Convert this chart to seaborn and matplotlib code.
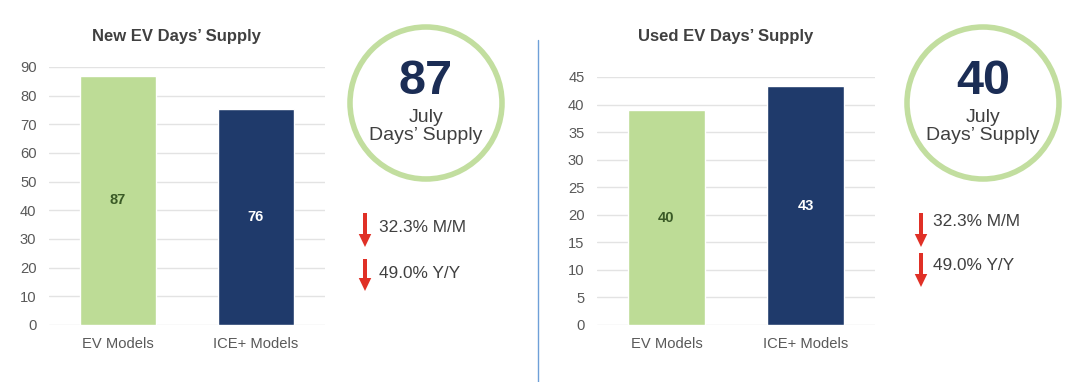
import matplotlib
matplotlib.use("Agg")
import matplotlib.pyplot as plt
import seaborn as sns
import pandas as pd
from matplotlib.patches import Circle, FancyArrow

# ---------------- data ----------------
categories = ["EV Models", "ICE+ Models"]
new_values = [87, 75.5]
new_labels = ["87", "76"]
used_values = [39, 43.3]
used_labels = ["40", "43"]
new_title = "New EV Days\u2019 Supply"
used_title = "Used EV Days\u2019 Supply"
new_headline = "87"
used_headline = "40"
circle_sub = ["July", "Days\u2019 Supply"]
change_texts = ["32.3% M/M", "49.0% Y/Y"]
new_yticks = list(range(0, 91, 10))
used_yticks = list(range(0, 46, 5))

# ---------------- style ----------------
sns.set_theme(style="white")
plt.rcParams["font.family"] = ["Liberation Sans", "DejaVu Sans"]

GREEN = "#bddc96"
NAVY = "#1f3a6b"
RING = "#c2de9f"
TXT = "#404040"
TICK = "#595959"
GRID = "#e3e3e3"
RED = "#e03026"

W, H = 1080, 382
fig = plt.figure(figsize=(W / 100, H / 100), dpi=100)
fig.patch.set_facecolor("white")


def px_rect(x0, x1, ytop, ybot):
    return [x0 / W, (H - ybot) / H, (x1 - x0) / W, (ybot - ytop) / H]


def bar_panel(rect, values, labels, yticks, ymax, title, title_x):
    ax = fig.add_axes(rect)
    df = pd.DataFrame({"cat": categories, "val": values})
    sns.barplot(data=df, x="cat", y="val", hue="cat", palette=[GREEN, NAVY],
                width=0.55, legend=False, ax=ax, saturation=1)
    ax.set_xlim(-0.5, 1.5)
    ax.set_ylim(0, ymax)
    ax.set_yticks(yticks)
    ax.yaxis.grid(True, color=GRID, linewidth=1)
    ax.set_axisbelow(True)
    for s in ax.spines.values():
        s.set_visible(False)
    ax.set_xlabel("")
    ax.set_ylabel("")
    ax.tick_params(axis="both", length=0, labelsize=10.6, labelcolor=TICK)
    ax.tick_params(axis="x", pad=9)
    ax.tick_params(axis="y", pad=9)
    label_colors = ["#3a5a26", "white"]
    for i, (v, lab) in enumerate(zip(values, labels)):
        ax.text(i, v / 2, lab, ha="center", va="center", fontsize=10.5,
                fontweight="bold", color=label_colors[i])
    fig.text(title_x / W, 1 - 37 / H, title, ha="center", va="center",
             fontsize=12, fontweight="bold", color=TXT)
    return ax


bar_panel(px_rect(49, 325, 67, 325), new_values, new_labels, new_yticks, 90,
          new_title, 176)
bar_panel(px_rect(597, 875, 77, 325), used_values, used_labels, used_yticks, 45,
          used_title, 726)

# overlay in pixel coordinates for decorations
ov = fig.add_axes([0, 0, 1, 1], zorder=5)
ov.set_xlim(0, W)
ov.set_ylim(H, 0)
ov.axis("off")
ov.patch.set_alpha(0)

# separator
ov.plot([538, 538], [40, 382], color="#6fa0d8", linewidth=1)

# circles with headline numbers
for cx, headline in [(426, new_headline), (983, used_headline)]:
    ov.add_patch(Circle((cx, 103), 76, fill=False, edgecolor=RING, linewidth=4))
    ov.text(cx, 81, headline, ha="center", va="center", fontsize=35,
            fontweight="bold", color="#1b2d55")
    ov.text(cx, 117, circle_sub[0], ha="center", va="center", fontsize=14,
            color=TXT)
    ov.text(cx, 135, circle_sub[1], ha="center", va="center", fontsize=14,
            color=TXT)

# change indicators
for ax_x, tx, rows in [(365, 379, [(213, 247, 227), (259, 291, 273)]),
                       (921, 933, [(213, 247, 222), (253, 287, 266)])]:
    for (ys, ye, ty), txt in zip(rows, change_texts):
        ov.add_patch(FancyArrow(ax_x, ys, 0, ye - ys, width=4,
                                head_width=12.5, head_length=13,
                                length_includes_head=True, color=RED,
                                linewidth=0))
        ov.text(tx, ty, txt, ha="left", va="center", fontsize=12.4, color=TXT)

fig.savefig("out.png", dpi=100, facecolor="white")
